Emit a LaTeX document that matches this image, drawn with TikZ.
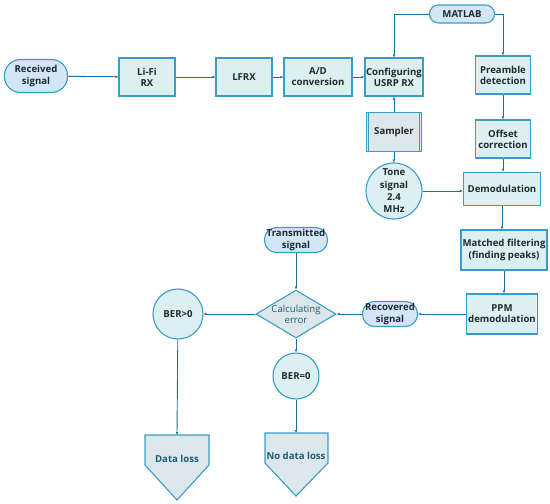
\documentclass[tikz,border=0pt]{standalone}
\usepackage{fontspec}
\setmainfont{Open Sans}
\usetikzlibrary{shapes.geometric,arrows.meta}
\definecolor{edge}{HTML}{3A9CC8}
\definecolor{wire}{HTML}{1C6E9E}
\definecolor{boxfill}{HTML}{DDF0F0}
\definecolor{stadfill}{HTML}{D3E6F6}
\definecolor{circfill}{HTML}{DCF0F3}
\definecolor{diafill}{HTML}{DCE7EB}
\definecolor{darktext}{HTML}{1E2A30}
\definecolor{tealtext}{HTML}{1F5A78}
\tikzset{
  base/.style={draw=edge, line width=1.1pt, align=center, font=\bfseries\fontsize{9.6}{11.2}\selectfont, text=darktext, inner sep=0pt},
  procbox/.style={base, rectangle, fill=boxfill},
  stadium/.style={base, rectangle, fill=stadfill},
  roundnode/.style={base, circle, fill=circfill},
  decision/.style={base, diamond, fill=diafill, text=tealtext, font=\fontsize{9.6}{11.2}\selectfont},
  wirearrow/.style={draw=wire, line width=0.9pt, -{Latex[length=3pt,width=2.6pt]}},
}
\begin{document}
\begin{tikzpicture}[x=1pt,y=-1pt]
\useasboundingbox (0,0) rectangle (550,504);
% nodes
\node[stadium, minimum width=63, minimum height=33, rounded corners=16pt] (recv) at (36,76) {Received\\signal};
\node[procbox, minimum width=56, minimum height=38] (lifi) at (147,77) {Li-Fi\\RX};
\node[procbox, minimum width=56, minimum height=38] (lfrx) at (244,77) {LFRX};
\node[procbox, minimum width=68, minimum height=38] (ad) at (318,77) {A/D\\conversion};
\node[procbox, minimum width=58, minimum height=38] (usrp) at (394,77) {Configuring\\USRP RX};
\node[stadium, minimum width=65, minimum height=18, rounded corners=9pt] (matlab) at (462,14) {MATLAB};
\node[procbox, minimum width=55, minimum height=38] (pre) at (503,75) {Preamble\\detection};
\node[procbox, minimum width=55, minimum height=39, fill=diafill] (samp) at (394,132) {Sampler};
\draw[edge, line width=0.8pt] ([xshift=2.5pt]samp.north west) -- ([xshift=2.5pt]samp.south west)
  ([xshift=-2.5pt]samp.north east) -- ([xshift=-2.5pt]samp.south east);
\node[procbox, minimum width=55, minimum height=38] (off) at (503,139) {Offset\\correction};
\node[roundnode, minimum size=56, font=\bfseries\fontsize{9.6}{12.3}\selectfont] (tone) at (394,191) {Tone\\signal\\2.4\\MHz};
\node[procbox, minimum width=77, minimum height=33] (demod) at (502,189) {Demodulation};
\node[procbox, minimum width=86, minimum height=40] (match) at (504,250) {Matched filtering\\(finding peaks)};
\node[procbox, minimum width=71, minimum height=40] (ppm) at (502,314) {PPM\\demodulation};
\node[stadium, minimum width=55, minimum height=25, rounded corners=12pt] (recov) at (390,314) {Recovered\\signal};
\node[decision, minimum width=77, minimum height=46, aspect=1.67] (calc) at (296,314) {Calculating\\error};
\node[stadium, minimum width=63, minimum height=25, rounded corners=12pt] (trans) at (296,240) {Transmitted\\signal};
\node[roundnode, minimum size=50] (berg) at (178,314) {BER>0};
\node[roundnode, minimum size=46] (bere) at (296,376) {BER=0};
% off-page connectors (pentagons)
\coordinate (dlTL) at (145,435); \coordinate (dlTR) at (209,435);
\coordinate (dlBR) at (209,465); \coordinate (dlBL) at (145,465); \coordinate (dlP) at (177,500);
\draw[edge, line width=1.1pt, fill=diafill] (dlTL) -- (dlTR) -- (dlBR) -- (dlP) -- (dlBL) -- cycle;
\node[base, draw=none, text=tealtext] (dloss) at (177,459) {Data loss};
\coordinate (ndTL) at (265,433); \coordinate (ndTR) at (328,433);
\coordinate (ndBR) at (328,463); \coordinate (ndBL) at (265,463); \coordinate (ndP) at (296,496);
\draw[edge, line width=1.1pt, fill=diafill] (ndTL) -- (ndTR) -- (ndBR) -- (ndP) -- (ndBL) -- cycle;
\node[base, draw=none, text=tealtext] (ndloss) at (296,456) {No data loss};
\coordinate (dltop) at (177,435);
\coordinate (ndtop) at (296,433);
% connectors
\draw[wirearrow] (recv) -- (lifi);
\draw[wirearrow] (lifi) -- (lfrx);
\draw[wirearrow] (lfrx) -- (ad);
\draw[wirearrow] (ad) -- (usrp);
\draw[wirearrow] (matlab.west) -| (usrp.north);
\draw[wirearrow] (matlab.east) -| (pre.north);
\draw[wirearrow] (pre) -- (off);
\draw[wirearrow] (off) -- (off |- demod.north);
\draw[wirearrow] (demod) -- (demod |- match.north);
\draw[wirearrow] (match) -- (match |- ppm.north);
\draw[wirearrow] (samp) -- (usrp);
\draw[wirearrow] (samp) -- (tone);
\draw[wirearrow] (tone) -- (tone -| demod.west);
\draw[wirearrow] (ppm) -- (recov);
\draw[wirearrow] (recov) -- (calc);
\draw[wirearrow] (trans) -- (calc);
\draw[wirearrow] (calc) -- (berg);
\draw[wirearrow] (calc) -- (bere);
\draw[wirearrow] (berg) -- (dltop);
\draw[wirearrow] (bere) -- (ndtop);
\end{tikzpicture}
\end{document}
